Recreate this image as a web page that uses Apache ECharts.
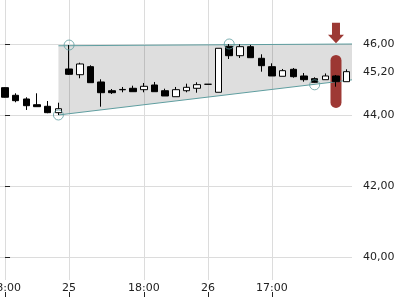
<!DOCTYPE html>
<html><head><meta charset="utf-8">
<script src="https://cdn.jsdelivr.net/npm/echarts@6/dist/echarts.min.js"></script>
<style>html,body{margin:0;padding:0;background:#fff}#c{width:400px;height:300px}</style>
</head><body><div id="c"></div>
<script>
// candle index (hourly bars)
const candleIndex = [0,1,2,3,4,5,6,7,8,9,10,11,12,13,14,15,16,17,18,19,20,21,22,23,24,25,26,27,28,29,30,31,32];
const opens  = [44.77,44.555,44.451,44.29,44.245,44.065,45.296,45.135,45.361,44.93,44.684,44.72,44.752,44.713,44.845,44.684,44.515,44.684,44.752,44.865,44.64,45.935,45.67,45.924,45.597,45.361,45.09,45.287,45.099,45.023,44.994,45.099,44.938];
const closes = [44.50,44.403,44.262,44.234,44.065,44.177,45.146,45.437,44.91,44.628,44.628,44.71,44.656,44.808,44.656,44.535,44.713,44.78,44.854,44.865,45.879,45.67,45.924,45.614,45.389,45.099,45.248,45.079,44.994,44.921,45.099,44.938,45.22];
const lows   = [44.49,44.358,44.141,44.234,44.05,44.0,45.127,45.034,44.91,44.234,44.592,44.64,44.656,44.64,44.656,44.535,44.515,44.64,44.628,44.865,44.64,45.577,45.606,45.614,45.22,45.099,45.09,45.051,44.938,44.91,44.994,44.797,44.938];
const highs  = [44.78,44.611,44.499,44.611,44.394,44.346,45.97,45.473,45.40,45.006,44.732,44.789,44.825,44.901,44.93,44.741,44.789,44.882,44.921,44.865,45.879,46.0,45.99,45.972,45.71,45.456,45.296,45.324,45.183,45.062,45.17,45.127,45.287];

const xTickIndex  = [0,6,13,19,25];
const xTickLabels = ['18:00','25','18:00','26','17:00'];
const yTicks = [40,42,44,46];
const lastPrice = [45.2];

const upperTrend = [[5,45.95],[32.5,46.0]];
const lowerTrend = [[5,44.0],[32.5,44.99]];
const trendPoints = [[5,44.0],[6,45.97],[21,46.0],[29,44.85]];
const signalBar = [[31,44.2,45.69]];
const signalArrow = [[31,46.02,46.6]];

const TEAL = '#5f9ea0';
const fmt = v => Number(v).toFixed(2).replace('.', ',');

const candleData = candleIndex.map((x,i)=>[x,opens[i],closes[i],lows[i],highs[i]]);

const chart = echarts.init(document.getElementById('c'), null, {renderer:'canvas'});
chart.setOption({
  animation:false,
  backgroundColor:'#fff',
  grid:{left:-0.3,right:48,top:0,bottom:20,containLabel:false,outerBoundsMode:'none'},
  xAxis:[{
    type:'value',min:-0.5,max:32.5,
    axisLine:{show:false},
    axisTick:{show:false,customValues:xTickIndex},
    axisLabel:{customValues:xTickIndex,formatter:v=>xTickLabels[xTickIndex.indexOf(v)],margin:3,color:'#222',fontSize:11,fontFamily:'DejaVu Sans'},
    splitLine:{show:true,lineStyle:{color:'#dcdcdc',width:1}}
  },{
    type:'value',min:-0.5,max:32.5,offset:12,gridIndex:0,position:'bottom',
    axisLine:{show:false},
    axisTick:{show:true,length:5,customValues:xTickIndex,lineStyle:{color:'#222'}},
    axisLabel:{show:false},
    splitLine:{show:false}
  }],
  yAxis:{
    type:'value',position:'right',min:39.352,max:47.239,
    axisLine:{show:false},
    axisTick:{show:true,length:5,customValues:yTicks,lineStyle:{color:'#222'}},
    axisLabel:{customValues:yTicks.concat(lastPrice),formatter:fmt,margin:11,color:'#222',fontSize:11,fontFamily:'DejaVu Sans'},
    splitLine:{show:true,lineStyle:{color:'#dcdcdc',width:1}}
  },
  series:[
    {type:'custom',silent:true,z:1,data:upperTrend,encode:{x:0,y:1},
     renderItem:(p,api)=>{
       if(p.dataIndex>0) return null;
       const pts=[upperTrend[0],upperTrend[1],lowerTrend[1],lowerTrend[0]].map(q=>api.coord(q));
       return {type:'polygon',shape:{points:pts},style:{fill:'rgba(0,0,0,0.13)'}};
     }},
    {type:'line',silent:true,z:3,data:upperTrend,symbol:'none',lineStyle:{color:TEAL,width:1}},
    {type:'line',silent:true,z:3,data:lowerTrend,symbol:'none',lineStyle:{color:TEAL,width:1}},
    {type:'custom',silent:true,z:2,data:signalBar,encode:{x:0,y:[1,2]},
     renderItem:(p,api)=>{
       const t=api.coord([api.value(0),api.value(2)]);
       const b=api.coord([api.value(0),api.value(1)]);
       return {type:'rect',shape:{x:t[0]-5.5,y:t[1],width:11,height:b[1]-t[1],r:5.5},style:{fill:'rgba(150,40,36,0.92)'}};
     }},
    {type:'custom',silent:true,z:2,data:signalArrow,encode:{x:0,y:[1,2]},
     renderItem:(p,api)=>{
       const tip=api.coord([api.value(0),api.value(1)]);
       const tail=api.coord([api.value(0),api.value(2)]);
       const x=tip[0], hy=tip[1]-8.5;
       return {type:'polygon',shape:{points:[[x-4,tail[1]],[x+4,tail[1]],[x+4,hy],[x+8,hy],[x,tip[1]],[x-8,hy],[x-4,hy]]},style:{fill:'#9c3934'}};
     }},
    {type:'candlestick',z:4,data:candleData,encode:{x:0,y:[1,2,3,4]},barWidth:7,
     itemStyle:{color:'#fff',color0:'#000',borderColor:'#000',borderColor0:'#000',borderWidth:1}},
    {type:'scatter',silent:true,z:5,data:trendPoints,symbol:'circle',symbolSize:10,
     itemStyle:{color:'rgba(0,0,0,0)',borderColor:TEAL,borderWidth:1}}
  ]
});
</script></body></html>
